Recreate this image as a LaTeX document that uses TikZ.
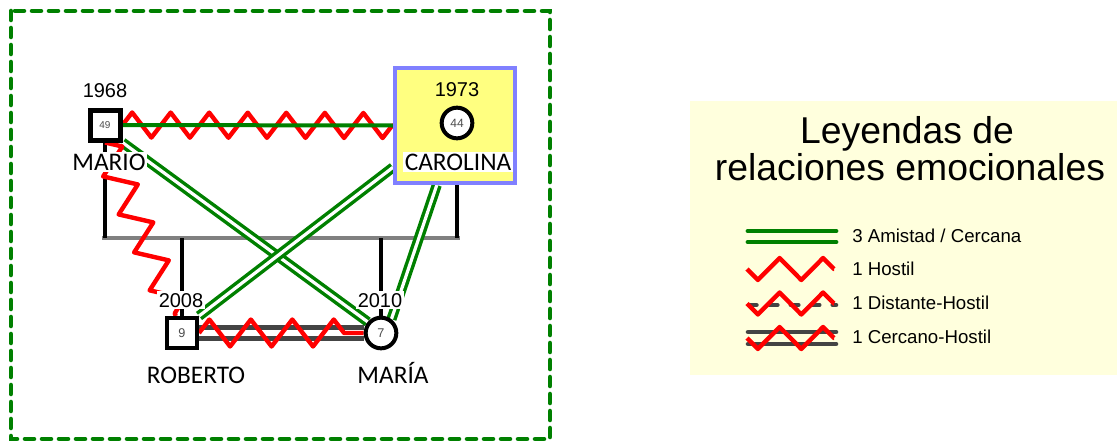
\documentclass[tikz,border=0pt]{standalone}
\usepackage{fontspec}
\setmainfont{Liberation Sans}
\newfontfamily\namefont{Carlito}
\usetikzlibrary{decorations.pathmorphing}

\definecolor{verdeamistad}{RGB}{0,128,0}
\definecolor{rojohostil}{RGB}{255,0,0}
\definecolor{grisoscuro}{RGB}{68,68,68}
\definecolor{grisunion}{RGB}{128,128,128}
\definecolor{azulmarco}{RGB}{128,128,255}
\definecolor{amarillocaja}{RGB}{255,255,128}
\definecolor{fondoleyenda}{RGB}{255,255,221}

\pgfdeclarelayer{lineas}
\pgfsetlayers{lineas,main}

\tikzset{
  varon/.style={draw, line width=3pt, fill=white, minimum size=22.5pt, inner sep=0pt,
    text=black!70, font=\fontsize{9.5}{9.5}\selectfont},
  mujer/.style={circle, draw, line width=3pt, fill=white, minimum size=23pt, inner sep=0pt,
    text=black!70, font=\fontsize{9.5}{9.5}\selectfont},
  anio/.style={anchor=base, inner sep=1.5pt, font=\fontsize{15}{15}\selectfont},
  nombre/.style={anchor=base, fill=white, inner sep=1pt, font=\namefont\fontsize{19}{19}\selectfont},
  linea/.style={black, line width=2.6pt},
  amistad/.style={draw=verdeamistad, line width=2.6pt, double=white, double distance=2.4pt},
  cercano/.style={draw=grisoscuro, line width=3.2pt, double=white, double distance=5.2pt},
  hostil/.style 2 args={draw=rojohostil, line width=3.3pt, line join=round, decorate,
    decoration={zigzag, segment length=#1, amplitude=#2}},
  textoley/.style={anchor=base west, inner sep=0pt, font=\fontsize{14}{14}\selectfont}
}

\begin{document}
\begin{tikzpicture}[x=0.75pt, y=-0.75pt]
\useasboundingbox (0,0) rectangle (1117,443);

% marco y caja de leyendas
\draw[verdeamistad, line width=3.4pt, dash pattern=on 6.75pt off 6pt, line cap=round]
  (11,11) rectangle (550,439);
\fill[fondoleyenda] (690,101) rectangle (1117,375);

% personas
\node[draw=azulmarco, fill=amarillocaja, line width=3pt, minimum width=90pt,
  minimum height=86.25pt] (carolinabox) at (455,125.5) {};
\node[varon, line width=3.75pt, font=\fontsize{7.5}{7.5}\selectfont] (mario) at (105,125) {49};
\node[mujer, font=\fontsize{9}{9}\selectfont] (carolina) at (457,123) {44};
\node[varon] (roberto) at (182,333) {9};
\node[mujer] (maria) at (381,333) {7};

% union e hijos
\coordinate (union-m) at (105,238);
\coordinate (union-c) at (457,238);
\coordinate (hijo-r) at (182,238);
\coordinate (hijo-m) at (381,238);

\begin{pgfonlayer}{lineas}
\draw[grisunion, line width=3.4pt] ([xshift=-2pt]union-m) -- ([xshift=2pt]union-c);
\draw[linea] (mario) -- (union-m);
\draw[linea] (carolina |- carolinabox.south) -- (union-c);
\draw[linea] (hijo-r) -- (roberto);
\draw[linea] (hijo-m) -- (maria);
% relaciones emocionales
\draw[hostil={28.9pt}{9.4pt}] (mario.east) -- (carolinabox.west);
\draw[verdeamistad, line width=3pt] (mario.east) -- (carolinabox.west);
\draw[amistad] (mario.south east) -- (maria.140);
\draw[amistad] (carolinabox.214) -- (roberto.north east);
\draw[amistad] (carolinabox.253) -- (maria.53);
\draw[hostil={30.75pt}{10.9pt}] (mario.south) -- (roberto.110);
\draw[cercano] (roberto.east) -- (maria.west);
\draw[hostil={31.1pt}{10.1pt}] (roberto.east) -- (maria.west);
\end{pgfonlayer}

% fechas y nombres
\node[anio] (anio-mario) at (105,97) {1968};
\node[anio] (anio-carolina) at (457,96) {1973};
\node[anio, fill=white] (anio-roberto) at (181,307) {2008};
\node[anio, fill=white] (anio-maria) at (380,307) {2010};
\node[nombre] (nom-mario) at (109,170) {MARIO};
\node[nombre] (nom-carolina) at (458,170) {CAROLINA};
\node[nombre] (nom-roberto) at (196,383) {ROBERTO};
\node[nombre] (nom-maria) at (393,383) {MARÍA};

% leyenda
\node[anchor=base, font=\fontsize{28}{28}\selectfont] (titulo1) at (907,143) {Leyendas de};
\node[anchor=base, font=\fontsize{28}{28}\selectfont] (titulo2) at (910,180) {relaciones emocionales};

\draw[verdeamistad, line width=3.6pt, line cap=round] (748,231) -- (836,231);
\draw[verdeamistad, line width=3.6pt, line cap=round] (748,242) -- (836,242);
\draw[hostil={32.6pt}{-8.25pt}] (747,269) -- (834,269);
\draw[grisoscuro, line width=3.4pt, line cap=round, dash pattern=on 5.6pt off 10.1pt]
  (749,305) -- (836,305);
\draw[hostil={32.6pt}{-8.25pt}] (747,303.5) -- (834,303.5);
\draw[grisoscuro, line width=3.4pt, line cap=round] (748,332) -- (836,332);
\draw[grisoscuro, line width=3.4pt, line cap=round] (748,344) -- (836,344);
\draw[hostil={32.6pt}{-8.25pt}] (747,338) -- (834,338);

\node[textoley] (ley-amistad) at (852,242) {3 Amistad / Cercana};
\node[textoley] (ley-hostil) at (852,275) {1 Hostil};
\node[textoley] (ley-distante) at (852,309) {1 Distante-Hostil};
\node[textoley] (ley-cercano) at (852,343) {1 Cercano-Hostil};
\end{tikzpicture}
\end{document}
